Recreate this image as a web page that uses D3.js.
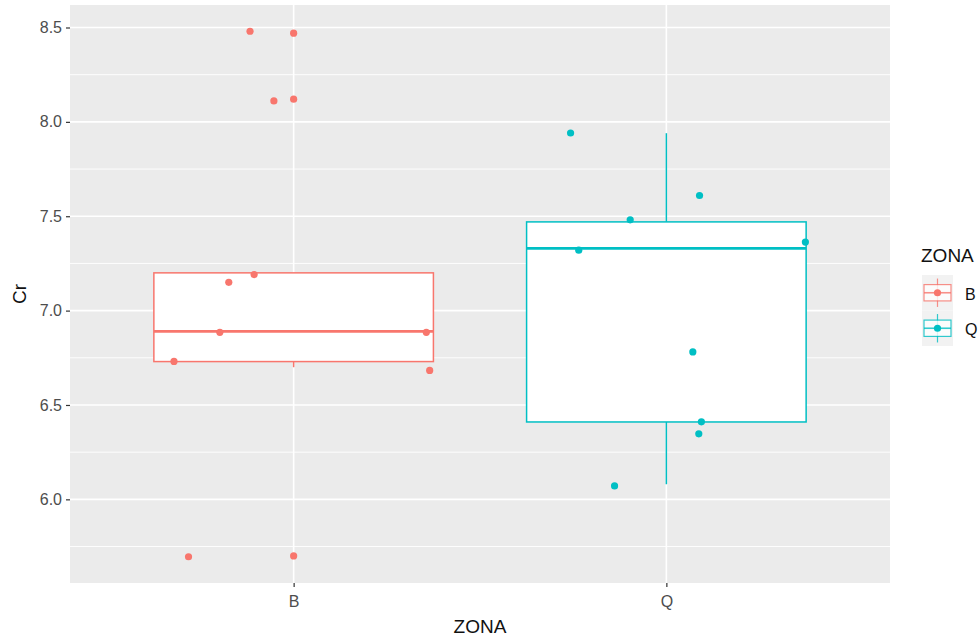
<!DOCTYPE html>
<html>
<head>
<meta charset="utf-8">
<script src="https://cdn.jsdelivr.net/npm/d3@7"></script>
<style>
  html, body { margin: 0; padding: 0; background: #fff; }
  svg { display: block; font-family: "Liberation Sans", Arial, sans-serif; }
</style>
</head>
<body>
<div id="chart"></div>
<script>
// --- Data ---
const categories = ["B", "Q"];
const yTicks = [6.0, 6.5, 7.0, 7.5, 8.0, 8.5];

// Cr values per zone
const bValues = [8.47, 8.12, 7.20, 7.15, 6.89, 6.89, 6.73, 6.70, 5.70];
const qValues = [7.94, 7.61, 7.47, 7.33, 7.36, 6.78, 6.41, 6.35, 6.08];

// jitter offsets: x in category widths, y in Cr units
const bJitterX = [-0.117, -0.053, -0.106, -0.174, -0.198, 0.356, -0.321, 0.365, -0.282];
const bJitterY = [0.010, -0.009, -0.009, 0.000, -0.005, -0.005, 0.001, -0.017, -0.004];
const qJitterX = [-0.257, 0.089, -0.097, -0.235, 0.373, 0.071, 0.094, 0.087, -0.139];
const qJitterY = [0.001, 0.000, 0.011, -0.010, 0.003, 0.001, 0.001, -0.003, -0.009];

const colors = ["#F8766D", "#00BFC4"];

// --- Layout ---
const W = 979, H = 641;
const margin = { top: 5, right: 89, bottom: 58, left: 70 };
const pw = W - margin.left - margin.right;
const ph = H - margin.top - margin.bottom;

const groups = [
  { name: "B", values: bValues, jx: bJitterX, jy: bJitterY },
  { name: "Q", values: qValues, jx: qJitterX, jy: qJitterY }
];

// boxplot stats (ggplot style, 1.5 IQR)
groups.forEach(g => {
  const s = g.values.slice().sort(d3.ascending);
  const q1 = d3.quantile(s, 0.25), med = d3.quantile(s, 0.5), q3 = d3.quantile(s, 0.75);
  const iqr = q3 - q1;
  const lo = q1 - 1.5 * iqr, hi = q3 + 1.5 * iqr;
  const inside = s.filter(v => v >= lo && v <= hi);
  g.stats = { q1, med, q3, wlo: d3.min(inside), whi: d3.max(inside) };
  g.outliers = s.filter(v => v < lo || v > hi);
  g.points = g.values.map((v, i) => ({ v: v + g.jy[i], dx: g.jx[i] }));
});

const allY = groups.flatMap(g => g.points.map(p => p.v).concat(g.values));
const [ymin, ymax] = d3.extent(allY);
const pad = (ymax - ymin) * 0.05;

const x = d3.scalePoint().domain(categories).range([0, pw]).padding(0.6);
const y = d3.scaleLinear().domain([ymin - pad, ymax + pad]).range([ph, 0]);
const color = d3.scaleOrdinal().domain(categories).range(colors);
const step = x.step();
const boxW = step * 0.75;

const svg = d3.select("#chart").append("svg")
  .attr("width", W).attr("height", H);

const g = svg.append("g").attr("transform", `translate(${margin.left},${margin.top})`);

// panel background
g.append("rect").attr("width", pw).attr("height", ph).attr("fill", "#EBEBEB");

// grid
const minor = d3.range(yTicks[0] - 0.25, yTicks[yTicks.length - 1] + 0.5, 0.5)
  .filter(v => y(v) >= 0 && y(v) <= ph);
g.selectAll(".minor").data(minor).join("line")
  .attr("x1", 0).attr("x2", pw).attr("y1", d => y(d)).attr("y2", d => y(d))
  .attr("stroke", "#fff").attr("stroke-width", 0.9);
g.selectAll(".major").data(yTicks).join("line")
  .attr("x1", 0).attr("x2", pw).attr("y1", d => y(d)).attr("y2", d => y(d))
  .attr("stroke", "#fff").attr("stroke-width", 1.6);
g.selectAll(".vmajor").data(categories).join("line")
  .attr("x1", d => x(d)).attr("x2", d => x(d)).attr("y1", 0).attr("y2", ph)
  .attr("stroke", "#fff").attr("stroke-width", 1.6);

// boxplots
groups.forEach(d => {
  const cx = x(d.name), c = color(d.name), s = d.stats;
  const bg = g.append("g");
  bg.append("line").attr("x1", cx).attr("x2", cx).attr("y1", y(s.q3)).attr("y2", y(s.whi))
    .attr("stroke", c).attr("stroke-width", 1.5);
  bg.append("line").attr("x1", cx).attr("x2", cx).attr("y1", y(s.q1)).attr("y2", y(s.wlo))
    .attr("stroke", c).attr("stroke-width", 1.5);
  bg.append("rect").attr("x", cx - boxW / 2).attr("width", boxW)
    .attr("y", y(s.q3)).attr("height", y(s.q1) - y(s.q3))
    .attr("fill", "#fff").attr("stroke", c).attr("stroke-width", 1.5);
  bg.append("line").attr("x1", cx - boxW / 2).attr("x2", cx + boxW / 2)
    .attr("y1", y(s.med)).attr("y2", y(s.med))
    .attr("stroke", c).attr("stroke-width", 2.7);
  bg.selectAll("circle").data(d.outliers).join("circle")
    .attr("cx", cx).attr("cy", v => y(v)).attr("r", 3.6).attr("fill", c);
});

// jittered points
groups.forEach(d => {
  g.append("g").selectAll("circle").data(d.points).join("circle")
    .attr("cx", p => x(d.name) + p.dx * step)
    .attr("cy", p => y(p.v))
    .attr("r", 3.6)
    .attr("fill", color(d.name));
});

// axes
const yAxis = g.append("g")
  .call(d3.axisLeft(y).tickValues(yTicks).tickFormat(d3.format(".1f")).tickSize(4).tickPadding(4));
const xAxis = g.append("g").attr("transform", `translate(0,${ph})`)
  .call(d3.axisBottom(x).tickSize(4).tickPadding(9));
[yAxis, xAxis].forEach(a => {
  a.select(".domain").remove();
  a.selectAll(".tick line").attr("stroke", "#333").attr("stroke-width", 1.2);
  a.selectAll(".tick text").attr("fill", "#4D4D4D").style("font-size", "16px")
    .style("font-family", "'Liberation Sans', Arial, sans-serif");
});

// axis titles
svg.append("text")
  .attr("transform", `translate(26,${margin.top + ph / 2}) rotate(-90)`)
  .attr("text-anchor", "middle").attr("fill", "#111").style("font-size", "19px")
  .text("Cr");
svg.append("text")
  .attr("x", margin.left + pw / 2).attr("y", 633)
  .attr("text-anchor", "middle").attr("fill", "#111").style("font-size", "19px")
  .text("ZONA");

// legend
const leg = svg.append("g").attr("transform", "translate(921,262)");
leg.append("text").attr("x", 0).attr("y", 0).attr("fill", "#111").style("font-size", "19px").text("ZONA");
const keyW = 31, keyH = 35.5;
const keys = leg.selectAll(".key").data(categories).join("g")
  .attr("transform", (d, i) => `translate(1,${13 + i * keyH})`);
keys.append("rect").attr("width", keyW).attr("height", keyH).attr("fill", "#F2F2F2");
keys.append("line").attr("x1", keyW / 2).attr("x2", keyW / 2)
  .attr("y1", keyH * 0.1).attr("y2", keyH * 0.9)
  .attr("stroke", d => color(d)).attr("stroke-width", 1.2).attr("opacity", 0.8);
keys.append("rect").attr("x", 2).attr("width", keyW - 4)
  .attr("y", keyH * 0.27).attr("height", keyH * 0.46)
  .attr("fill", "#fff").attr("stroke", d => color(d)).attr("stroke-width", 1.2).attr("opacity", 0.8);
keys.append("line").attr("x1", 2).attr("x2", keyW - 2)
  .attr("y1", keyH / 2).attr("y2", keyH / 2)
  .attr("stroke", d => color(d)).attr("stroke-width", 1.6).attr("opacity", 0.8);
keys.append("circle").attr("cx", keyW / 2).attr("cy", keyH / 2).attr("r", 3.6)
  .attr("fill", d => color(d));
keys.append("text").attr("x", keyW + 12).attr("y", keyH / 2 + 1).attr("dy", "0.36em")
  .attr("fill", "#111").style("font-size", "16px").text(d => d);
</script>
</body>
</html>
